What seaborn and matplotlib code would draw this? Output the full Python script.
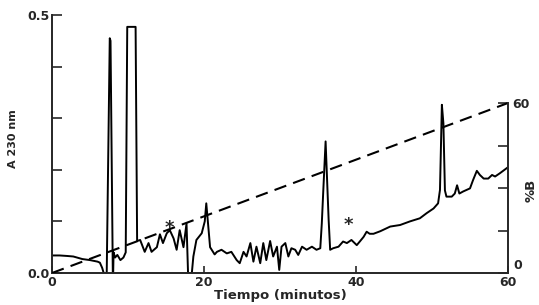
import matplotlib
matplotlib.use("Agg")
import matplotlib.pyplot as plt
import seaborn as sns
import pandas as pd

# ---- data ----
time_min = [0, 1, 2, 2.8, 4, 5, 6, 6.3, 6.6, 6.8, 7.2, 7.6, 7.7, 8.0, 8.05, 8.1, 8.3, 8.6, 9.0, 9.4,
            9.7, 9.9, 11.0, 11.2, 11.6, 12.2, 12.7, 13.1, 13.8, 14.2, 14.6, 15.1, 15.5, 16.0, 16.4,
            16.8, 17.3, 17.7, 17.9, 18.4, 18.6, 19.0, 19.7, 20.1, 20.3, 20.8, 21.4, 21.7, 22.3, 23.0,
            23.6, 24.3, 24.7, 25.2, 25.6, 26.1, 26.5, 26.9, 27.4, 27.8, 28.2, 28.7, 29.1, 29.6, 29.9,
            30.2, 30.7, 31.1, 31.5, 32.0, 32.4, 32.9, 33.5, 34.2, 34.8, 35.3, 35.5, 35.7, 36.0, 36.4,
            36.6, 37.0, 37.7, 38.3, 38.8, 39.4, 40.1, 40.5, 41.0, 41.4, 41.8, 42.3, 43.2, 44.5, 45.8,
            47.1, 48.4, 49.3, 50.2, 50.8, 51.05, 51.3, 51.5, 51.7, 51.9, 52.6, 53.0, 53.3, 53.6, 54.1,
            55.0, 55.4, 55.9, 56.3, 56.8, 57.4, 57.9, 58.3, 58.9, 60.0]
absorbance = [0.034, 0.034, 0.033, 0.032, 0.027, 0.025, 0.022, 0.020, 0.010, 0.0, 0.0, 0.455, 0.450,
              0.0, 0.0, 0.040, 0.030, 0.035, 0.025, 0.030, 0.040, 0.477, 0.477, 0.062, 0.064, 0.041,
              0.058, 0.041, 0.050, 0.075, 0.058, 0.077, 0.083, 0.067, 0.045, 0.083, 0.050, 0.096, 0.0,
              0.0, 0.032, 0.064, 0.077, 0.100, 0.135, 0.050, 0.036, 0.041, 0.045, 0.038, 0.041, 0.025,
              0.019, 0.041, 0.032, 0.058, 0.022, 0.051, 0.019, 0.058, 0.025, 0.062, 0.032, 0.051, 0.006,
              0.051, 0.058, 0.032, 0.048, 0.045, 0.035, 0.051, 0.045, 0.051, 0.045, 0.048, 0.096, 0.161,
              0.255, 0.103, 0.045, 0.048, 0.051, 0.061, 0.058, 0.064, 0.054, 0.061, 0.070, 0.080, 0.076,
              0.076, 0.081, 0.090, 0.093, 0.100, 0.106, 0.116, 0.125, 0.135, 0.161, 0.326, 0.290, 0.160,
              0.148, 0.148, 0.154, 0.170, 0.154, 0.158, 0.164, 0.180, 0.198, 0.190, 0.183, 0.183, 0.190,
              0.187, 0.193, 0.205]

# gradient of solvent B (%)
grad_time = [0, 60]
grad_pct_b = [0, 60]

# peaks marked with an asterisk
star_time = [15.5, 39.0]
star_abs = [0.087, 0.093]

df = pd.DataFrame({"t": time_min, "A": absorbance})
grad = pd.DataFrame({"t": grad_time, "B": grad_pct_b})

# ---- figure ----
sns.set_style("ticks")
plt.rcParams["font.family"] = ["DejaVu Sans"]
plt.rcParams["font.weight"] = "bold"

fig = plt.figure(figsize=(5.39, 3.05), dpi=100)
ax = fig.add_axes([52 / 539, 32 / 305, 456 / 539, 258 / 305])
ax2 = ax.twinx()

sns.lineplot(data=df, x="t", y="A", ax=ax, color="black", lw=1.4, sort=False, estimator=None)
sns.lineplot(data=grad, x="t", y="B", ax=ax2, color="black", lw=1.5,
             linestyle=(0, (6, 3.5)), sort=False, estimator=None)

for t, a in zip(star_time, star_abs):
    ax.text(t, a, "*", fontsize=13, ha="center", va="center", fontweight="bold")

# left axis
ax.set_xlim(0, 60)
ax.set_ylim(0, 0.5)
ax.set_yticks([0, 0.1, 0.2, 0.3, 0.4, 0.5])
ax.set_yticklabels(["0.0", "", "", "", "", "0.5"])
ax.set_xticks([0, 20, 40, 60])
ax.set_xticklabels(["0", "20", "40", "60"])
ax.tick_params(axis="y", direction="in", length=7, width=1.2, labelsize=9, pad=2)
ax.tick_params(axis="x", direction="in", length=5, width=1.2, labelsize=9, pad=2)
ax.set_xlabel("Tiempo (minutos)", fontsize=9.5, fontweight="bold", labelpad=0)
ax.set_ylabel("A 230 nm", fontsize=8, fontweight="bold")
ax.yaxis.set_label_coords(-0.075, 0.52)
ax.spines["top"].set_visible(False)
ax.spines["right"].set_visible(False)
ax.spines["left"].set_linewidth(1.4)
ax.spines["bottom"].set_linewidth(1.4)

# right axis (%B), spine only up to 60
ax2.set_ylim(0, 60 * 258 / 170)
ax2.set_yticks([0, 15, 30, 45, 60])
ax2.set_yticklabels(["", "", "", "", "60"])
ax2.tick_params(axis="y", direction="in", length=7, width=1.2, labelsize=9, pad=3)
ax2.text(1.012, 0.005, "0", transform=ax2.transAxes, fontsize=9, fontweight="bold",
         ha="left", va="bottom")
ax2.spines["right"].set_bounds(0, 60)
ax2.spines["right"].set_linewidth(1.4)
for s in ["top", "left", "bottom"]:
    ax2.spines[s].set_visible(False)
ax2.set_ylabel("%B", fontsize=9.5, fontweight="bold", rotation=90)
ax2.yaxis.set_label_coords(1.036, 0.32)

fig.savefig("out.png", dpi=100)
